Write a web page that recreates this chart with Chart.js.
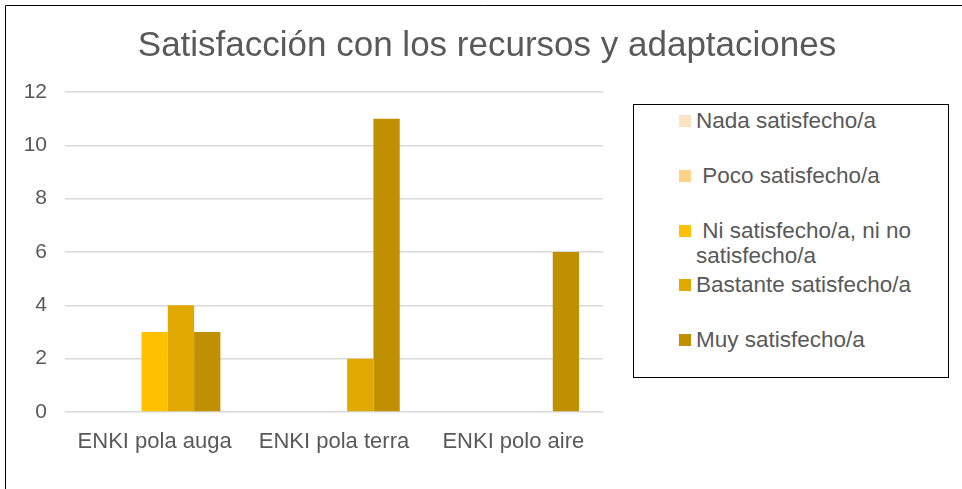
<!DOCTYPE html>
<html>
<head>
<meta charset="utf-8">
<script src="https://cdn.jsdelivr.net/npm/chart.js@4.4.0/dist/chart.umd.min.js"></script>
<style>
	body { margin: 0; background: #fff; font-family: "Liberation Sans", Arial, sans-serif; }
	#wrap { position: relative; width: 962px; height: 489px; }
	#chart { position: absolute; left: 0; top: 0; }
	#legendBox {
		position: absolute; left: 633px; top: 104px; width: 314px; height: 272px;
		border: 1px solid #000; background: #fff;
	}
	.lgItem { position: absolute; left: 62px; width: 245px; font-size: 22.5px; line-height: 25px; color: #595959; }
	.lgBox { position: absolute; left: -17px; top: 7px; width: 12px; height: 12px; }
</style>
</head>
<body>
<div id="wrap">
	<canvas id="chart" width="962" height="489"></canvas>
	<div id="legendBox"></div>
</div>
<script>
// datos
let titleText = "Satisfacción con los recursos y adaptaciones";
let categories = ["ENKI pola auga", "ENKI pola terra", "ENKI polo aire"];
let seriesLabels = ["Nada satisfecho/a", " Poco satisfecho/a", " Ni satisfecho/a, ni no satisfecho/a", "Bastante satisfecho/a", "Muy satisfecho/a"];
let seriesColors = ["#FBE3C3", "#FDD38C", "#FFC000", "#E1A900", "#C09000"];
let nadaValues = [0, 0, 0];
let pocoValues = [0, 0, 0];
let niValues = [3, 0, 0];
let bastanteValues = [4, 2, 0];
let muyValues = [3, 11, 6];
let yTicks = [0, 2, 4, 6, 8, 10, 12];

let allValues = [nadaValues, pocoValues, niValues, bastanteValues, muyValues];

const fontFamily = "'Liberation Sans', Arial, sans-serif";

// marco + titulo
const framePlugin = {
	id: "framePlugin",
	afterDraw: function(chart) {
		let ctx = chart.ctx;
		ctx.save();
		ctx.strokeStyle = "#000";
		ctx.lineWidth = 1;
		ctx.beginPath();
		ctx.moveTo(5.5, 489);
		ctx.lineTo(5.5, 5.5);
		ctx.lineTo(962, 5.5);
		ctx.stroke();
		ctx.fillStyle = "#595959";
		ctx.font = "35px " + fontFamily;
		ctx.textAlign = "center";
		ctx.textBaseline = "middle";
		ctx.fillText(titleText, 487, 46);
		ctx.restore();
	}
};

let datasets = seriesLabels.map(function(label, i) {
	return {
		label: label,
		data: allValues[i],
		backgroundColor: seriesColors[i],
		borderWidth: 0,
		categoryPercentage: 0.733,
		barPercentage: 1.0
	};
});

let ctx = document.getElementById("chart").getContext("2d");
let myChart = new Chart(ctx, {
	type: "bar",
	data: {
		labels: categories,
		datasets: datasets
	},
	options: {
		responsive: false,
		animation: false,
		layout: {
			padding: { top: 92, right: 359, left: 0, bottom: 0 }
		},
		scales: {
			x: {
				grid: { display: false },
				border: { display: false },
				ticks: { color: "#595959", font: { size: 22, family: fontFamily }, padding: 9, maxRotation: 0 },
				afterFit: function(scale) { scale.height = 77; }
			},
			y: {
				min: 0,
				max: 12,
				afterBuildTicks: function(scale) {
					scale.ticks = yTicks.map(function(v) { return { value: v }; });
				},
				grid: { color: "#D9D9D9", lineWidth: 1.5, drawTicks: false },
				border: { display: false },
				ticks: { color: "#595959", font: { size: 21, family: fontFamily }, padding: 18 },
				afterFit: function(scale) { scale.width = 65; }
			}
		},
		plugins: {
			legend: { display: false },
			tooltip: { enabled: false },
			title: { display: false }
		}
	},
	plugins: [framePlugin]
});

// leyenda html
let legendBox = document.getElementById("legendBox");
let legendTops = [3, 58, 113, 167, 222];
let legendHtml = "";
seriesLabels.forEach(function(label, i) {
	legendHtml += "<div class=\"lgItem\" style=\"top:" + legendTops[i] + "px\">";
	legendHtml += "<span class=\"lgBox\" style=\"background:" + seriesColors[i] + "\"></span>";
	legendHtml += label.replace(/^ /, "&nbsp;") + "</div>";
});
legendBox.innerHTML = legendHtml;
</script>
</body>
</html>
